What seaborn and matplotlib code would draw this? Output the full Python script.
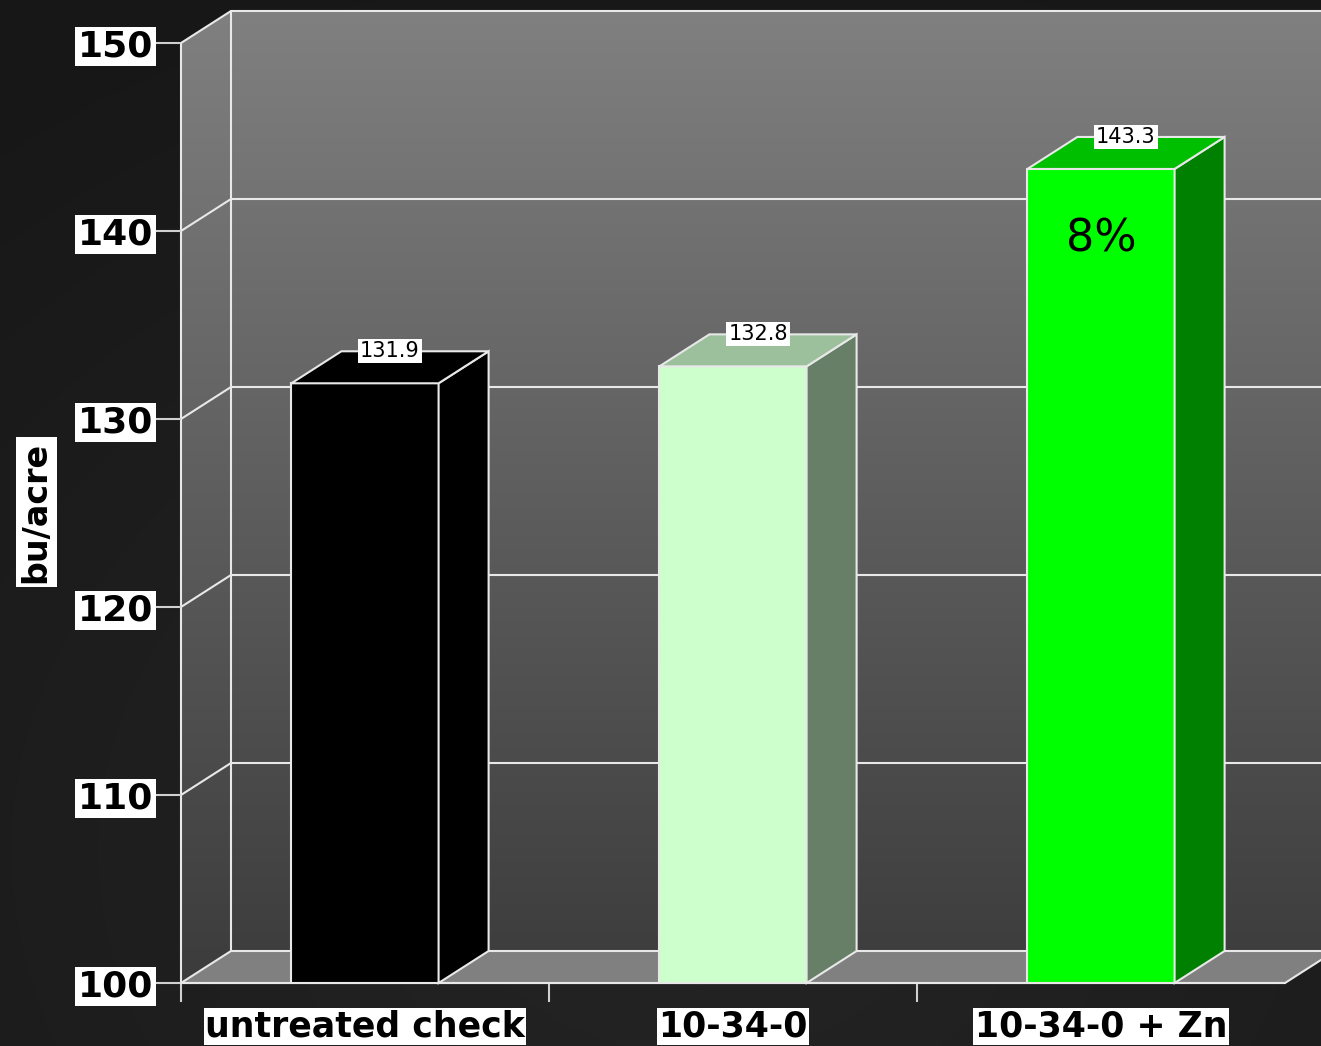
import numpy as np
import matplotlib
matplotlib.use("Agg")
import matplotlib.pyplot as plt
from matplotlib.patches import Polygon
from matplotlib.transforms import ScaledTranslation
import seaborn as sns

# Yield by treatment
categories = ["untreated check", "10-34-0", "10-34-0 + Zn"]
yields = [131.9, 132.8, 143.3]
value_labels = ["131.9", "132.8", "143.3"]
front_colors = ["#000000", "#ccffcc", "#00ff00"]
top_colors = ["#000000", "#9cbf9c", "#00bf00"]
side_colors = ["#000000", "#667f66", "#008000"]
y_ticks = [100, 110, 120, 130, 140, 150]
gain_label = "8%"

sns.set_theme(style="white")
plt.rcParams["font.family"] = ["DejaVu Sans"]

DPI = 100
W, H = 1321, 1046
fig = plt.figure(figsize=(W / DPI, H / DPI), dpi=DPI)
fig.patch.set_facecolor("#1c1c1c")

# full-figure layer for the dark backdrop and the shaded walls
bg = fig.add_axes([0, 0, 1, 1], zorder=-10)
yy, xx = np.mgrid[0:H, 0:W]
r = np.hypot((xx - 700) / W, (yy - 850) / H)
shade = 0.145 - 0.06 * np.clip(r, 0, 0.9)
bg.imshow(np.dstack([shade] * 3), aspect="auto", extent=[0, 1, 0, 1],
          zorder=1)
bg.set_xlim(0, 1)
bg.set_ylim(0, 1)
bg.set_axis_off()

ax = fig.add_axes([181 / W, 1 - 983 / H, 1104 / W, 940 / H])
ax.patch.set_alpha(0)
ax.set_xlim(-0.5, 2.5)
ax.set_ylim(100, 150)

# depth of the pseudo-3D box in pixels
DX, DY = 50, 32
back_tr = ax.transData + ScaledTranslation(DX / DPI, DY / DPI, fig.dpi_scale_trans)
inv = ax.transData.inverted()


def back(x, y):
    return tuple(inv.transform(back_tr.transform((x, y))))


x_far = 2.7
line_kw = dict(color="#e8e8e8", lw=1.5, clip_on=False)

# walls: left side + back wall, vertical gray gradient
wall_pts = [(-0.5, 100), (-0.5, 150), back(-0.5, 150), back(x_far, 150),
            back(x_far, 100), back(-0.5, 100)]
wall = Polygon(wall_pts, closed=True, facecolor="none", edgecolor="none")
ax.add_patch(wall)
rows = np.arange(H)
g = (0x80 - (0x80 - 0x3c) * (rows - 10) / (975 - 10)) / 255
g = np.clip(g, 0x3c / 255, 0x80 / 255).reshape(-1, 1)
g = np.repeat(g, 2, axis=1)
wall_im = bg.imshow(np.dstack([g] * 3), aspect="auto", extent=[0, 1, 0, 1],
                    interpolation="bilinear", zorder=2)
wall_im.set_clip_path(wall)
bg.set_xlim(0, 1)
bg.set_ylim(0, 1)

# gridlines on the back wall and the side wall
for t in y_ticks[1:]:
    bx0, by0 = back(-0.5, t)
    bx1, _ = back(x_far, t)
    ax.plot([bx0, bx1], [by0, by0], zorder=0.5, **line_kw)
    ax.plot([-0.5, bx0], [t, by0], zorder=0.5, **line_kw)
bx0, by0 = back(-0.5, 100)
_, by1 = back(-0.5, 150)
ax.plot([bx0, bx0], [by0, by1], zorder=0.5, **line_kw)
ax.plot([-0.5, -0.5], [100, 150], zorder=0.5, **line_kw)

# floor
floor = Polygon([(-0.5, 100), (2.5, 100), back(2.5, 100), back(-0.5, 100)],
                closed=True, facecolor="#808080", edgecolor="#e8e8e8",
                lw=1.5, clip_on=False, zorder=0.6)
ax.add_patch(floor)

# front faces of the bars
BAR_W = 0.4
sns.barplot(x=categories, y=yields, hue=categories, palette=front_colors,
            saturation=1, width=BAR_W, edgecolor="#e8e8e8", linewidth=1.5,
            legend=False, ax=ax, zorder=2)
ax.set_xlim(-0.5, 2.5)
ax.set_ylim(100, 150)

# top and side faces
for i, v in enumerate(yields):
    xl, xr = i - BAR_W / 2, i + BAR_W / 2
    top = Polygon([(xl, v), (xr, v), back(xr, v), back(xl, v)], closed=True,
                  facecolor=top_colors[i], edgecolor="#e8e8e8", lw=1.5,
                  clip_on=False, zorder=2)
    side = Polygon([(xr, 100), (xr, v), back(xr, v), back(xr, 100)], closed=True,
                   facecolor=side_colors[i], edgecolor="#e8e8e8", lw=1.5,
                   clip_on=False, zorder=2)
    ax.add_patch(side)
    ax.add_patch(top)
    lx, ly = back(i, v)
    ax.text((i + lx) / 2, ly, value_labels[i], ha="center", va="center",
            fontsize=15, color="black", zorder=5,
            bbox=dict(facecolor="white", edgecolor="none", pad=1.5))

ax.text(2, 139.6, gain_label, ha="center", va="center", fontsize=32,
        color="black", zorder=5)

# axes styling
for s in ax.spines.values():
    s.set_visible(False)
ax.grid(False)
ax.set_yticks(y_ticks)
ax.set_yticklabels([str(t) for t in y_ticks])
ax.tick_params(axis="y", length=18, width=1.5, color="#d0d0d0", pad=2,
               labelsize=26, labelcolor="black", left=True)
for lab in ax.get_yticklabels():
    lab.set_fontweight("bold")
    lab.set_bbox(dict(facecolor="white", edgecolor="none", pad=2))

ax.set_xticks([0, 1, 2])
ax.set_xticklabels(categories)
ax.set_xticks([-0.5, 0.5, 1.5], minor=True)
ax.tick_params(axis="x", which="major", length=0, pad=19, labelsize=25,
               labelcolor="black")
ax.tick_params(axis="x", which="minor", length=14, width=1.5,
               color="#d0d0d0", bottom=True)
for lab in ax.get_xticklabels():
    lab.set_fontweight("bold")
    lab.set_bbox(dict(facecolor="white", edgecolor="none", pad=1.0))

ax.plot([-0.5, 2.5], [100, 100], zorder=3, **line_kw)

ax.set_xlabel("")
ax.set_ylabel("bu/acre", fontsize=24, fontweight="bold", color="black",
              va="center",
              bbox=dict(facecolor="white", edgecolor="none", pad=3))
ax.yaxis.set_label_coords((36 - 181) / 1104, (983 - 512) / 940)

fig.savefig("out.png", dpi=DPI, facecolor=fig.get_facecolor())
